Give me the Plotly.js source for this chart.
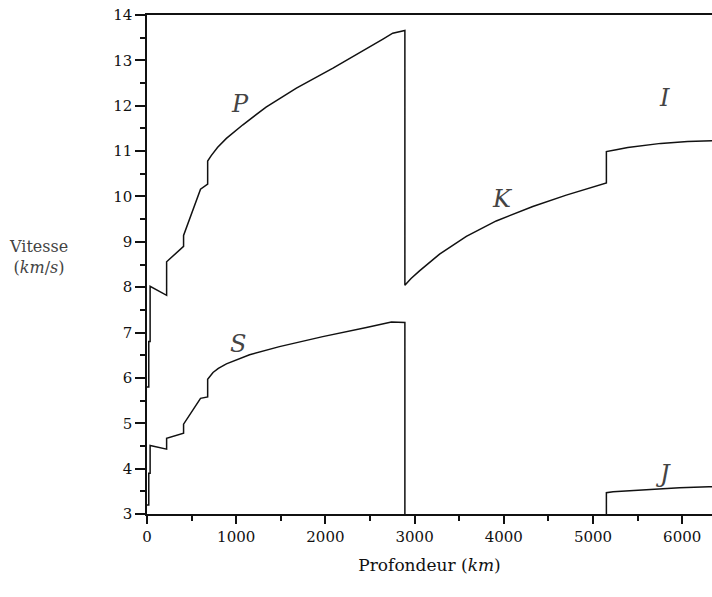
<!DOCTYPE html>
<html><head><meta charset="utf-8">
<script src="https://cdn.plot.ly/plotly-3.0.1.min.js"></script>
</head><body style="margin:0;padding:0;background:#fff">
<div id="chart"></div>
<script>
// Depth (km) and velocity (km/s)
const pDepth = [0, 20, 20, 35, 35, 220, 220, 410, 410, 600, 680, 680, 720, 790, 890, 1075, 1335, 1675, 2085, 2460, 2645, 2755, 2891,
                2891, 2960, 3055, 3280, 3580, 3915, 4325, 4700, 5150,
                5150, 5260, 5390, 5760, 6060, 6371];
const pVel   = [5.8, 5.8, 6.8, 6.8, 8.02, 7.82, 8.56, 8.90, 9.14, 10.16, 10.27, 10.78, 10.90, 11.08, 11.28, 11.58, 11.97, 12.39, 12.83, 13.25, 13.47, 13.60, 13.66,
                8.04, 8.19, 8.36, 8.73, 9.12, 9.46, 9.78, 10.03, 10.30,
                10.99, 11.03, 11.08, 11.17, 11.21, 11.23];

const sDepth = [0, 20, 20, 35, 35, 220, 220, 410, 410, 600, 680, 680, 740, 800, 890, 1150, 1485, 1970, 2460, 2740, 2891,
                2891, 5150,
                5150, 5225, 5600, 5970, 6300, 6371];
const sVel   = [3.2, 3.2, 3.9, 3.9, 4.51, 4.43, 4.67, 4.78, 4.98, 5.55, 5.58, 5.97, 6.12, 6.21, 6.31, 6.51, 6.69, 6.91, 7.11, 7.23, 7.22,
                0, 0,
                3.47, 3.49, 3.54, 3.58, 3.60, 3.60];

const waveLabels = ['P', 'S', 'K', 'I', 'J'];
const labelDepth = [1040, 1015, 3990, 5805, 5780];
const labelVel   = [12.03, 6.75, 9.94, 12.18, 3.88];

const xTicks = [0, 1000, 2000, 3000, 4000, 5000, 6000];
const yTicks = [3, 4, 5, 6, 7, 8, 9, 10, 11, 12, 13, 14];

const serif = 'DejaVu Serif';
const lineStyle = { color: '#111', width: 1.5 };

const traces = [
  { x: pDepth, y: pVel, mode: 'lines', line: lineStyle, name: 'Ondes P', showlegend: false },
  { x: sDepth, y: sVel, mode: 'lines', line: lineStyle, name: 'Ondes S', showlegend: false }
];

const annotations = waveLabels.map((t, i) => ({
  x: labelDepth[i], y: labelVel[i], xref: 'x', yref: 'y',
  text: '<i>' + t + '</i>', showarrow: false,
  font: { family: serif, size: 24 }
}));
annotations.push({
  xref: 'paper', yref: 'paper', x: -0.192, y: 0.515, xanchor: 'center', yanchor: 'middle',
  text: 'Vitesse<br>(<i>km</i>/<i>s</i>)', showarrow: false, align: 'center',
  font: { family: serif, size: 16 }
});

const layout = {
  width: 712, height: 597,
  margin: { l: 147, r: 0, t: 15, b: 83 },
  paper_bgcolor: '#fff', plot_bgcolor: '#fff',
  font: { family: serif, size: 15 },
  showlegend: false,
  xaxis: {
    range: [0, 6334], tickvals: xTicks, ticktext: xTicks.map(String),
    ticks: 'outside', ticklen: 8, tickwidth: 1.5, tickcolor: '#111',
    minor: { dtick: 500, tick0: 0, ticks: 'outside', ticklen: 5, tickwidth: 1.5, tickcolor: '#111', showgrid: false },
    showline: true, linecolor: '#111', linewidth: 1.5, mirror: true,
    showgrid: false, zeroline: false,
    tickfont: { family: serif, size: 15, color: '#111' },
    title: { text: 'Profondeur (<i>km</i>)', standoff: 14, font: { family: serif, size: 17, color: '#111' } }
  },
  yaxis: {
    range: [3, 14], tickvals: yTicks, ticktext: yTicks.map(String),
    ticks: 'outside', ticklen: 10, tickwidth: 1.5, tickcolor: '#111',
    minor: { dtick: 0.5, tick0: 3, ticks: 'outside', ticklen: 5, tickwidth: 1.5, tickcolor: '#111', showgrid: false },
    showline: true, linecolor: '#111', linewidth: 1.5, mirror: false,
    showgrid: false, zeroline: false,
    tickfont: { family: serif, size: 15, color: '#111' }
  },
  annotations: annotations
};

Plotly.newPlot('chart', traces, layout, { displayModeBar: false });
</script>
</body></html>
